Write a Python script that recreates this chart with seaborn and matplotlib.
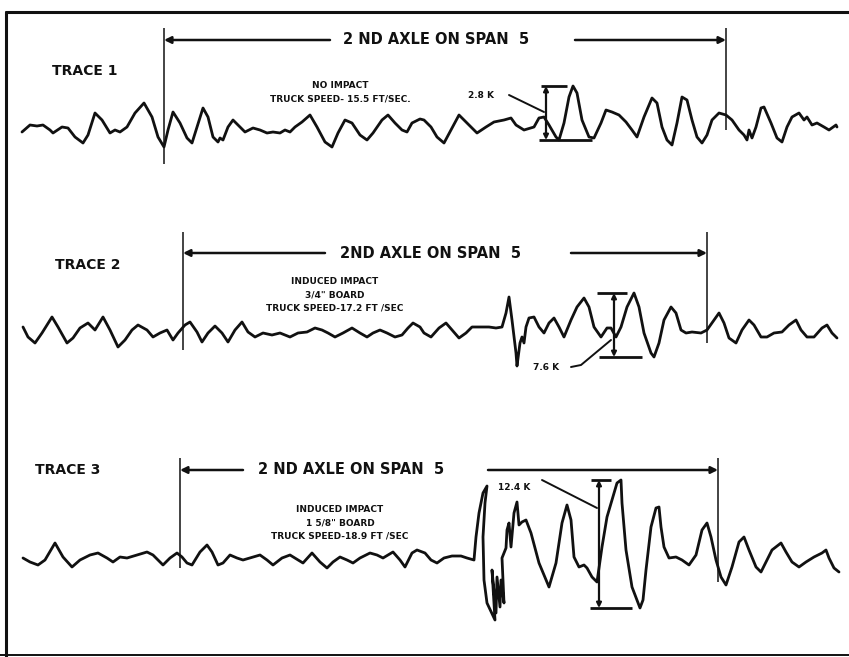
import numpy as np
import matplotlib
matplotlib.use('Agg')
import matplotlib.pyplot as plt
import seaborn as sns

# strain gauge traces: position along the record and pen deflection (up = +)
t1_x = [22, 30, 37, 43, 50, 53, 62, 68, 75, 83,
        88, 95, 102, 110, 115, 120, 127, 135, 144, 152,
        158, 164, 168, 173, 180, 187, 192, 197, 203, 208,
        213, 218, 220, 223, 228, 233, 238, 245, 253, 260,
        267, 273, 280, 285, 290, 295, 302, 310, 317, 325,
        332, 338, 345, 352, 360, 367, 373, 382, 388, 395,
        402, 407, 412, 420, 424, 431, 437, 444, 451, 459,
        467, 477, 486, 494, 504, 511, 516, 524, 534, 539,
        544, 549, 556, 559, 564, 569, 573, 577, 582, 589,
        594, 601, 606, 612, 619, 626, 632, 637, 644, 652,
        657, 662, 667, 672, 677, 682, 687, 692, 697, 702,
        707, 712, 719, 726, 732, 739, 744, 747, 749, 752,
        756, 761, 764, 771, 777, 782, 787, 792, 799, 804,
        807, 812, 817, 824, 829, 836, 837]
t1_amp = [-4, 3, 2, 3, -2, -5, 1, 0, -9, -15,
          -7, 15, 8, -5, -2, -4, 1, 15, 25, 11,
          -9, -19, -2, 16, 5, -10, -15, 1, 20, 11,
          -9, -14, -10, -12, 1, 8, 3, -4, 0, -2,
          -5, -4, -5, -2, -4, 1, 6, 13, 1, -14,
          -19, -5, 8, 5, -7, -12, -5, 8, 13, 5,
          -2, -4, 5, 9, 8, 1, -9, -15, -2, 13,
          5, -5, 1, 6, 8, 10, 3, -2, 1, 10,
          11, 3, -9, -12, 5, 31, 42, 35, 8, -9,
          -10, 5, 18, 16, 13, 6, -2, -9, 11, 30,
          25, 1, -12, -17, 5, 31, 28, 8, -9, -15,
          -7, 8, 15, 13, 8, -2, -7, -12, -2, -10,
          1, 20, 21, 5, -10, -14, 1, 11, 15, 8,
          11, 3, 5, 1, -2, 3, 1]

t2_x = [23, 28, 35, 42, 52, 58, 67, 73, 80, 88,
        95, 103, 110, 118, 125, 132, 138, 147, 153, 160,
        167, 173, 178, 185, 190, 197, 202, 208, 215, 222,
        228, 235, 242, 248, 255, 263, 272, 280, 290, 298,
        307, 315, 322, 328, 335, 343, 352, 360, 367, 373,
        380, 387, 395, 402, 408, 413, 420, 424, 431, 439,
        446, 452, 459, 466, 472, 481, 489, 496, 502, 506,
        509, 512, 516, 517, 520, 522, 524, 526, 529, 534,
        539, 544, 549, 554, 559, 564, 571, 577, 584, 589,
        594, 601, 607, 611, 616, 621, 627, 634, 639, 644,
        651, 654, 659, 664, 671, 676, 681, 686, 692, 701,
        707, 714, 719, 724, 729, 736, 742, 749, 754, 761,
        767, 774, 782, 789, 796, 801, 807, 814, 822, 827,
        832, 837]
t2_amp = [5, -5, -11, -1, 15, 5, -11, -6, 4, 9,
          2, 15, 2, -15, -8, 2, 7, 2, -5, -1,
          2, -8, -1, 7, 10, 0, -10, -1, 6, -1,
          -10, 2, 10, 0, -5, -1, -3, -1, -5, -1,
          0, 4, 2, -1, -5, -1, 4, -1, -5, -1,
          2, -1, -5, -3, 4, 9, 5, -1, -5, 4,
          9, 2, -6, -1, 5, 5, 5, 4, 5, 19,
          35, 12, -21, -34, -11, -5, -11, 5, 14, 15,
          5, -1, 9, 14, 5, -5, 12, 25, 34, 25,
          5, -5, 4, 4, -5, 5, 25, 39, 25, -1,
          -21, -25, -11, 12, 25, 19, 2, -1, 0, -1,
          2, 12, 19, 9, -6, -11, 2, 12, 7, -5,
          -5, -1, 0, 7, 12, 2, -5, -5, 4, 7,
          -1, -6]

t3_x = [23, 30, 38, 45, 55, 63, 72, 80, 90, 98,
        107, 113, 120, 127, 137, 147, 153, 163, 170, 177,
        182, 187, 192, 200, 207, 212, 218, 223, 230, 237,
        243, 253, 260, 267, 273, 282, 290, 298, 303, 312,
        320, 327, 333, 340, 347, 353, 360, 370, 377, 383,
        388, 393, 400, 405, 412, 417, 425, 431, 437, 444,
        452, 461, 467, 474, 476, 479, 483, 487, 485, 483,
        484, 487, 495, 492, 496, 497, 500, 501, 504, 502,
        506, 507, 509, 511, 514, 517, 519, 522, 526, 531,
        539, 549, 556, 562, 567, 571, 574, 579, 584, 587,
        592, 597, 602, 607, 612, 617, 621, 622, 626, 632,
        640, 643, 646, 651, 656, 659, 661, 664, 669, 676,
        682, 689, 696, 702, 707, 711, 716, 721, 726, 732,
        739, 744, 749, 756, 761, 767, 772, 781, 786, 792,
        799, 806, 814, 822, 826, 829, 834, 839]
t3_amp = [0, -4, -7, -2, 15, 1, -9, -2, 3, 5,
          0, -4, 1, 0, 3, 6, 3, -7, 0, 5,
          1, -5, -7, 6, 13, 6, -7, -5, 3, 0,
          -2, 1, 3, -2, -7, 0, 3, -2, -5, 5,
          -4, -10, -4, 1, -2, -5, 0, 5, 3, 0,
          3, 6, -2, -9, 5, 8, 5, -2, -5, 0,
          2, 2, 0, -2, 21, 45, 65, 72, 55, 21,
          -22, -45, -62, -12, -55, -19, -49, -22, -45, 0,
          10, 28, 35, 11, 45, 56, 33, 36, 38, 25,
          -5, -29, -5, 35, 53, 38, 1, -9, -7, -10,
          -19, -24, 11, 41, 58, 75, 78, 55, 8, -29,
          -50, -42, -12, 31, 50, 51, 31, 11, 0, 1,
          -2, -7, 3, 28, 35, 21, -2, -19, -27, -9,
          16, 21, 8, -9, -14, -2, 8, 15, 6, -4,
          -9, -4, 1, 5, 8, 0, -10, -14]

trace_labels = ['TRACE 1', 'TRACE 2', 'TRACE 3']
span_labels = ['2 ND AXLE ON SPAN  5', '2ND AXLE ON SPAN  5', '2 ND AXLE ON SPAN  5']
trace_notes = [['NO IMPACT', 'TRUCK SPEED- 15.5 FT/SEC.'],
               ['INDUCED IMPACT', '3/4" BOARD', 'TRUCK SPEED-17.2 FT /SEC'],
               ['INDUCED IMPACT', '1 5/8" BOARD', 'TRUCK SPEED-18.9 FT /SEC']]
span_start = [164, 183, 180]
span_end = [726, 707, 718]
peak_labels = ['2.8 K', '7.6 K', '12.4 K']
peak_window = [(540, 600), (625, 660), (610, 650)]

sns.set_theme(style='white')
plt.rcParams['font.family'] = ['DejaVu Sans']
plt.rcParams['lines.solid_joinstyle'] = 'round'
plt.rcParams['lines.solid_capstyle'] = 'round'

ink = '#111111'
fig = plt.figure(figsize=(8.49, 6.57), dpi=100, facecolor='white')
ax = fig.add_axes([0, 0, 1, 1])
ax.set_xlim(0, 849)
ax.set_ylim(657, 0)
ax.axis('off')

# frame of the scanned sheet
ax.plot([6, 6], [12, 657], color=ink, lw=2.2)
ax.plot([6, 849], [12, 12], color=ink, lw=2.2)
ax.plot([0, 849], [655, 655], color=ink, lw=1.4)

baseline = [128, 332, 558]
arrow_y = [40, 253, 470]
vline_top = [28, 232, 458]
vline_bot = [[164, 130], [350, 343], [568, 582]]
title_xy = [(52, 71), (55, 265), (35, 470)]
span_text_x = [343, 340, 258]
span_gap = [(330, 575), (325, 571), (243, 488)]
note_xy = [(340, 86), (335, 281), (340, 509)]
bracket_x = [546, 614, 599]
bar_top = [(541, 567), (597, 627), (591, 611)]
bar_bot = [(539, 592), (599, 642), (590, 632)]
peak_text_xy = [(481, 96), (546, 367), (514, 487)]
leaders = [[(509, 95), (544, 112)],
           [(571, 367), (581, 365), (611, 340)],
           [(542, 480), (597, 508)]]

traces = [(t1_x, t1_amp), (t2_x, t2_amp), (t3_x, t3_amp)]
for i, (xs, amps) in enumerate(traces):
    xs = np.array(xs)
    ys = baseline[i] - np.array(amps)
    sns.lineplot(x=xs, y=ys, sort=False, estimator=None, color=ink,
                 linewidth=2.0, ax=ax)

    # span markers and arrows
    ax.vlines(span_start[i], vline_top[i], vline_bot[i][0], color=ink, lw=1.1)
    ax.vlines(span_end[i], vline_top[i], vline_bot[i][1], color=ink, lw=1.1)
    ax.annotate('', xy=(span_start[i], arrow_y[i]), xytext=(span_gap[i][0], arrow_y[i]),
                arrowprops=dict(arrowstyle='-|>', color=ink, lw=1.8, mutation_scale=10,
                                shrinkA=0, shrinkB=0))
    ax.annotate('', xy=(span_end[i], arrow_y[i]), xytext=(span_gap[i][1], arrow_y[i]),
                arrowprops=dict(arrowstyle='-|>', color=ink, lw=1.8, mutation_scale=10,
                                shrinkA=0, shrinkB=0))
    ax.text(span_text_x[i], arrow_y[i], span_labels[i], ha='left', va='center',
            fontsize=10.5, fontweight='bold', color=ink)
    ax.text(title_xy[i][0], title_xy[i][1], trace_labels[i], ha='left', va='center',
            fontsize=10, fontweight='bold', color=ink)
    for k, line in enumerate(trace_notes[i]):
        ax.text(note_xy[i][0], note_xy[i][1] + 13.5 * k, line, ha='center', va='center',
                fontsize=6.5, fontweight='bold', color=ink)

    # peak-to-peak bracket taken from the trace inside the window
    lo, hi = peak_window[i]
    sel = (xs >= lo) & (xs <= hi)
    top = baseline[i] - np.array(amps)[sel].max()
    bot = baseline[i] - np.array(amps)[sel].min()
    ax.hlines(top, *bar_top[i], color=ink, lw=2)
    ax.hlines(bot, *bar_bot[i], color=ink, lw=2)
    ax.annotate('', xy=(bracket_x[i], top), xytext=(bracket_x[i], bot),
                arrowprops=dict(arrowstyle='<|-|>', color=ink, lw=1.6, mutation_scale=7,
                                shrinkA=0, shrinkB=0))
    lx, ly = zip(*leaders[i])
    ax.plot(lx, ly, color=ink, lw=1.4)
    ax.text(peak_text_xy[i][0], peak_text_xy[i][1], peak_labels[i], ha='center', va='center',
            fontsize=6.5, fontweight='bold', color=ink)

fig.savefig('out.png', dpi=100, facecolor='white')
